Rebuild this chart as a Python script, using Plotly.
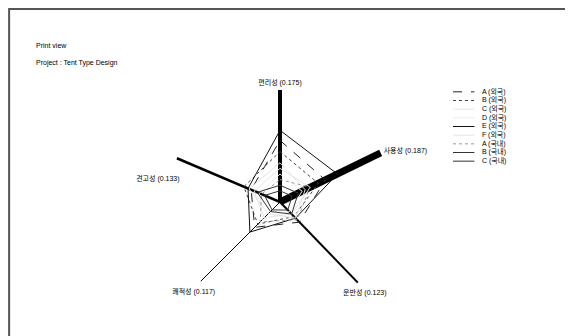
import plotly.graph_objects as go

# Criteria and their weights
criteria = ["편리성", "사용성", "운반성", "쾌적성", "견고성"]
weights = [0.175, 0.187, 0.123, 0.117, 0.133]

# Series (scores along each criterion, same order as criteria)
series_names = ["A (외국)", "B (외국)", "C (외국)", "D (외국)", "E (외국)",
                "F (외국)", "A (국내)", "B (국내)", "C (국내)"]
a_foreign = [0.55, 0.45, 0.25, 0.32, 0.28]
b_foreign = [0.45, 0.38, 0.18, 0.28, 0.35]
c_foreign = [0.30, 0.30, 0.15, 0.20, 0.25]
d_foreign = [0.25, 0.22, 0.12, 0.22, 0.20]
e_foreign = [0.64, 0.57, 0.20, 0.38, 0.31]
f_foreign = [0.35, 0.25, 0.20, 0.15, 0.30]
a_domestic = [0.20, 0.30, 0.22, 0.25, 0.18]
b_domestic = [0.15, 0.18, 0.15, 0.12, 0.22]
c_domestic = [0.10, 0.12, 0.10, 0.10, 0.15]

series_values = [a_foreign, b_foreign, c_foreign, d_foreign, e_foreign,
                 f_foreign, a_domestic, b_domestic, c_domestic]

# styling (the print is greyscale)
axis_angles = [90, 26, -46, -135, 157]
axis_widths = [4, 7, 2, 1, 2.5]
label_r = [1.03, 1.03, 1.09, 1.09, 0.92]
label_theta = [90, 26, -46, -135, 167]
label_pos = ["top center", "middle right", "bottom center", "bottom center", "middle left"]
line_styles = [("#222", "dash"), ("#444", "dot"), ("#e4e4e4", "solid"), ("#eeeeee", "solid"),
               ("#111", "solid"), ("#e4e4e4", "solid"), ("#999", "dot"),
               ("#333", "solid"), ("#333", "solid")]

FONT = "Liberation Sans, Noto Sans CJK KR, sans-serif"
W, H = 560, 336  # page body has an 8px margin
R_MAX = 1.2      # radial range, leaves room for the axis labels


def px(x):
    return (x - 8) / W


def py(y):
    return 1 - (y - 8) / H


fig = go.Figure()

# weighted axes
for name, w, ang, lw in zip(criteria, weights, axis_angles, axis_widths):
    fig.add_trace(go.Scatterpolar(
        r=[0, 1], theta=[ang, ang], mode="lines",
        line=dict(color="black", width=lw), showlegend=False, hoverinfo="skip"))

# axis labels
fig.add_trace(go.Scatterpolar(
    r=label_r, theta=label_theta, mode="text", cliponaxis=False,
    text=[f"{c} ({w})" for c, w in zip(criteria, weights)],
    textposition=label_pos, textfont=dict(size=7, color="black", family=FONT),
    showlegend=False, hoverinfo="skip"))

# series polygons
for name, vals, (col, dash) in zip(series_names, series_values, line_styles):
    fig.add_trace(go.Scatterpolar(
        r=vals + vals[:1], theta=axis_angles + axis_angles[:1], mode="lines",
        name=name, line=dict(color=col, width=1, dash=dash), showlegend=False))

# compact legend drawn in a small hidden cartesian panel
n = len(series_names)
for i, (name, (col, dash)) in enumerate(zip(series_names, line_styles)):
    fig.add_trace(go.Scatter(
        x=[0, 1], y=[i, i], mode="lines", line=dict(color=col, width=1, dash=dash),
        showlegend=False, hoverinfo="skip"))
fig.add_trace(go.Scatter(
    x=[1.35] * n, y=list(range(n)), mode="text", text=series_names,
    textposition="middle right", textfont=dict(size=7, color="black", family=FONT),
    showlegend=False, hoverinfo="skip", cliponaxis=False))

cx, cy, rad = 280, 202, 112 * R_MAX
fig.update_layout(
    width=W, height=H,
    margin=dict(l=0, r=0, t=0, b=0),
    paper_bgcolor="white", plot_bgcolor="rgba(0,0,0,0)",
    showlegend=False,
    font=dict(family=FONT, size=7, color="black"),
    polar=dict(
        domain=dict(x=[px(cx - rad), px(cx + rad)], y=[py(cy + rad), py(cy - rad)]),
        bgcolor="rgba(0,0,0,0)",
        radialaxis=dict(visible=False, range=[0, R_MAX]),
        angularaxis=dict(visible=False, rotation=0, direction="counterclockwise"),
    ),
    xaxis=dict(domain=[px(453), px(560)], range=[0, 5], visible=False, fixedrange=True),
    yaxis=dict(domain=[py(165.5), py(87.5)], range=[n - 0.5, -0.5], visible=False,
               fixedrange=True),
    shapes=[dict(type="rect", xref="paper", yref="paper", x0=0.002, x1=0.998,
                 y0=-0.05, y1=0.997, line=dict(color="#555", width=2))],
    annotations=[
        dict(text="Print view", x=px(34), y=py(45), xref="paper", yref="paper",
             xanchor="left", yanchor="middle", showarrow=False, font=dict(size=7)),
        dict(text="Project : Tent Type Design", x=px(34), y=py(63),
             xref="paper", yref="paper", xanchor="left", yanchor="middle",
             showarrow=False, font=dict(size=7)),
    ],
)

fig.write_html("out.html")
